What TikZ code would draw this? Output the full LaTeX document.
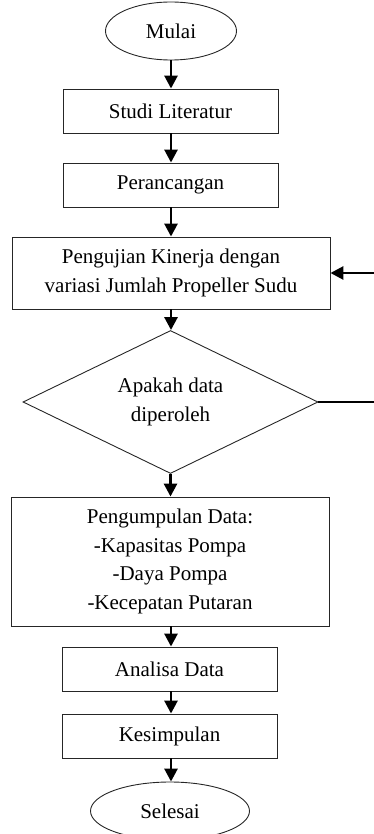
\documentclass[tikz,border=0pt]{standalone}
\usepackage{fontspec}
\setmainfont{Liberation Serif}
\usetikzlibrary{shapes.geometric,arrows.meta}
\begin{document}
\begin{tikzpicture}[x=1pt,y=-1pt,
  every node/.style={font=\fontsize{21}{28.5}\selectfont, align=center, inner sep=0pt, draw=black!85, line width=0.9pt},
  procbox/.style={rectangle, minimum width=215pt, minimum height=44pt},
  widebox/.style={rectangle, minimum width=318pt},
  term/.style={ellipse, minimum height=58pt},
  flow/.style={line width=2.8pt, -{Triangle[length=13pt,width=13pt]}},
  plain/.style={line width=2.8pt}
]
\useasboundingbox (0,0) rectangle (374,834);
\node[term, minimum width=131pt] (mulai) at (171,31) {Mulai};
\node[procbox] (studi) at (170.5,111) {Studi Literatur};
\node[procbox] (peran) at (170.5,185) {Perancangan};
\node[widebox, minimum height=72pt] (uji) at (171,273) {Pengujian Kinerja dengan\\variasi Jumlah Propeller Sudu};
\node[diamond, aspect=2.06, minimum width=295pt, minimum height=143pt] (dia) at (170.5,402) {Apakah data\\diperoleh};
\node[widebox, minimum height=129pt] (peng) at (170,561.5) {Pengumpulan Data:\\-Kapasitas Pompa\\-Daya Pompa\\-Kecepatan Putaran};
\node[procbox] (anal) at (169.5,669) {Analisa Data};
\node[procbox] (kesim) at (169.5,736) {Kesimpulan};
\node[term, minimum width=159pt] (selesai) at (170,811) {Selesai};

\coordinate (r1) at (376,402);
\coordinate (r2) at (376,273);

\draw[flow] (mulai.south) -- (mulai.south |- studi.north);
\draw[flow] (studi.south -| 171,0) -- (171,0 |- peran.north);
\draw[flow] (peran.south -| 171,0) -- (171,0 |- uji.north);
\draw[flow] (uji.south) -- (uji.south |- dia.north);
\draw[flow] (dia.south) -- (dia.south |- peng.north);
\draw[flow] (peng.south -| 171,0) -- (171,0 |- anal.north);
\draw[flow] (anal.south -| 171,0) -- (171,0 |- kesim.north);
\draw[flow] (kesim.south -| 171,0) -- (171,0 |- selesai.north);
\draw[plain] (dia.east) -- (r1);
\draw[flow] (r2) -- (uji.east);
\end{tikzpicture}
\end{document}
